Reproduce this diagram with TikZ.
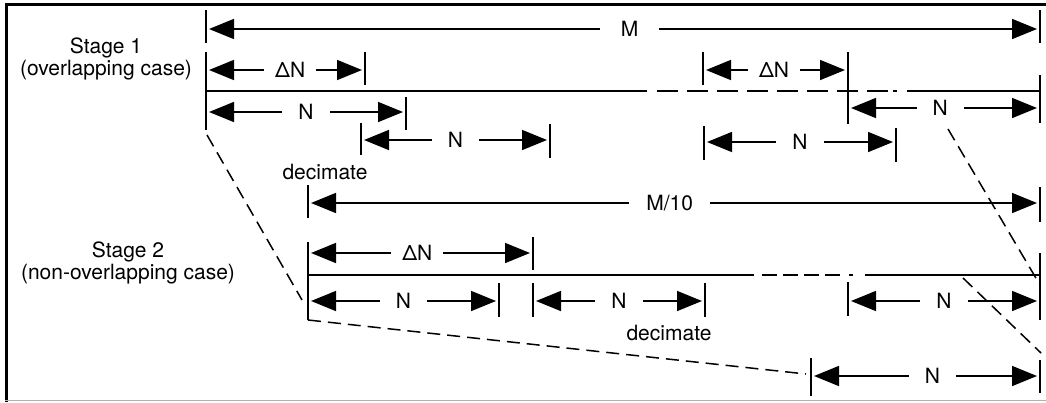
\documentclass[tikz,border=0pt]{standalone}
\usepackage{fontspec}
\setmainfont{TeX Gyre Heros}
\usetikzlibrary{arrows.meta}
\begin{document}
\begin{tikzpicture}[x=1pt,y=-1pt,
  every node/.style={font=\fontsize{21}{21.5}\selectfont},
  tick/.style={line width=1.6pt},
  sig/.style={line width=1.6pt},
  dim/.style={line width=1.6pt,
    {Triangle[length=25pt,width=20pt]}-{Triangle[length=25pt,width=20pt]},
    shorten <=3pt, shorten >=3pt},
  lbl/.style={fill=white, inner xsep=16pt, inner ysep=2pt},
  proj/.style={line width=1.5pt, dash pattern=on 13pt off 7pt},
]
\useasboundingbox (0,0) rectangle (1046,402);
% frame
\draw[line width=3pt] (5,4) -- (1046,4);
\draw[line width=3pt] (6.5,2.5) -- (6.5,402);
\draw[line width=1.5pt, black!30] (5,400.5) -- (1046,400.5);

% ---------- Stage 1 ----------
\node[align=center] (st1) at (106,59) {Stage 1\\(overlapping case)};
\coordinate (t1a) at (206,10);  \coordinate (t1b) at (206,43);
\coordinate (t2a) at (1040,10); \coordinate (t2b) at (1040,43);
\coordinate (t3a) at (206,52);  \coordinate (t3b) at (206,130);
\coordinate (t4a) at (365,52);  \coordinate (t4b) at (365,85);
\coordinate (t5a) at (703,52);  \coordinate (t5b) at (703,85);
\coordinate (t6a) at (848,52);  \coordinate (t6b) at (848,124);
\coordinate (t7a) at (406,97);  \coordinate (t7b) at (406,130);
\coordinate (t8a) at (1040,75); \coordinate (t8b) at (1040,123);
\coordinate (t9a) at (361,123); \coordinate (t9b) at (361,155);
\coordinate (t10a) at (550,124); \coordinate (t10b) at (550,158);
\coordinate (t11a) at (704,126); \coordinate (t11b) at (704,160);
\coordinate (t12a) at (896,128); \coordinate (t12b) at (896,162);
\foreach \t in {t1,t2,t3,t4,t5,t6,t7,t8,t9,t10,t11,t12}
  \draw[tick] (\t a) -- (\t b);

\coordinate (m1) at (206,29);  \coordinate (m2) at (1040,29);
\coordinate (d1) at (206,70);  \coordinate (d2) at (365,70);
\coordinate (d3) at (703,70);  \coordinate (d4) at (848,70);
\coordinate (n1) at (206,112); \coordinate (n2) at (406,112);
\coordinate (n3) at (848,108); \coordinate (n4) at (1040,108);
\coordinate (n5) at (361,140); \coordinate (n6) at (550,140);
\coordinate (n7) at (704,142); \coordinate (n8) at (896,142);
\draw[dim] (m1) -- node[lbl, inner xsep=21pt, pos=0.508] (lm) {M} (m2);
\draw[dim] (d1) -- node[lbl, inner xsep=11pt, pos=0.53] (ld1) {ΔN} (d2);
\draw[dim] (d3) -- node[lbl, inner xsep=11pt, pos=0.49] (ld2) {ΔN} (d4);
\draw[dim] (n1) -- node[lbl] (ln1) {N} (n2);
\draw[dim] (n3) -- node[lbl, pos=0.48] (ln2) {N} (n4);
\draw[dim] (n5) -- node[lbl] (ln3) {N} (n6);
\draw[dim] (n7) -- node[lbl] (ln4) {N} (n8);

% signal line stage 1
\coordinate (s1) at (206,91); \coordinate (s2) at (647,91);
\coordinate (s3) at (657,91); \coordinate (s4) at (888,91);
\coordinate (s5) at (893,91); \coordinate (s6) at (897,91);
\coordinate (s7) at (907,91); \coordinate (s8) at (1040,91);
\draw[sig] (s1) -- (s2);
\draw[sig, dash pattern=on 21pt off 9pt] (s3) -- (s4);
\draw[sig] (s5) -- (s6);
\draw[sig] (s7) -- (s8);

\node (dec1) at (325,172) {decimate};

% ---------- Stage 2 ----------
\node[align=center] (st2) at (128,263) {Stage 2\\(non-overlapping case)};
\coordinate (u1a) at (308,185);  \coordinate (u1b) at (308,218);
\coordinate (u2a) at (1040,187); \coordinate (u2b) at (1040,222);
\coordinate (u3a) at (308,242);  \coordinate (u3b) at (308,320);
\coordinate (u4a) at (533,237);  \coordinate (u4b) at (533,270);
\coordinate (u5a) at (1040,253); \coordinate (u5b) at (1040,320);
\coordinate (u6a) at (499,283);  \coordinate (u6b) at (499,317);
\coordinate (u7a) at (533,283);  \coordinate (u7b) at (533,317);
\coordinate (u8a) at (705,283);  \coordinate (u8b) at (705,317);
\coordinate (u9a) at (848,282);  \coordinate (u9b) at (848,316);
\coordinate (u10a) at (811,358); \coordinate (u10b) at (811,396);
\coordinate (u11a) at (1040,360); \coordinate (u11b) at (1040,393);
\foreach \t in {u1,u2,u3,u4,u5,u6,u7,u8,u9,u10,u11}
  \draw[tick] (\t a) -- (\t b);

\coordinate (k1) at (308,203); \coordinate (k2) at (1040,203);
\coordinate (e1) at (308,253); \coordinate (e2) at (533,253);
\coordinate (q1) at (308,301); \coordinate (q2) at (499,301);
\coordinate (q3) at (533,301); \coordinate (q4) at (705,301);
\coordinate (q5) at (848,301); \coordinate (q6) at (1040,301);
\coordinate (q7) at (811,376); \coordinate (q8) at (1040,376);
\draw[dim] (k1) -- node[lbl, inner xsep=17pt, pos=0.494] (lk) {M/10} (k2);
\draw[dim] (e1) -- node[lbl, inner xsep=11pt, pos=0.486] (le) {ΔN} (e2);
\draw[dim] (q1) -- node[lbl] (lq1) {N} (q2);
\draw[dim] (q3) -- node[lbl] (lq2) {N} (q4);
\draw[dim] (q5) -- node[lbl] (lq3) {N} (q6);
\draw[dim] (q7) -- node[lbl, pos=0.53] (lq4) {N} (q8);

% signal line stage 2
\coordinate (v1) at (308,275); \coordinate (v2) at (754,275);
\coordinate (v3) at (762,275); \coordinate (v4) at (841,275);
\coordinate (v5) at (849,275); \coordinate (v6) at (853,275);
\coordinate (v7) at (865,275); \coordinate (v8) at (1040,275);
\draw[sig] (v1) -- (v2);
\draw[sig, dash pattern=on 15pt off 6pt] (v3) -- (v4);
\draw[sig] (v5) -- (v6);
\draw[sig] (v7) -- (v8);

\node (dec2) at (669,333) {decimate};

% projection lines
\coordinate (p1) at (207,135); \coordinate (p2) at (302,300);
\coordinate (p3) at (806,374);
\coordinate (p4) at (948,129); \coordinate (p5) at (1040,285);
\coordinate (p6) at (963,278); \coordinate (p7) at (1041,353);
\draw[proj] (p1) -- (p2);
\draw[proj] (u3b) -- (p3);
\draw[proj] (p4) -- (p5);
\draw[proj] (p6) -- (p7);
\end{tikzpicture}
\end{document}
